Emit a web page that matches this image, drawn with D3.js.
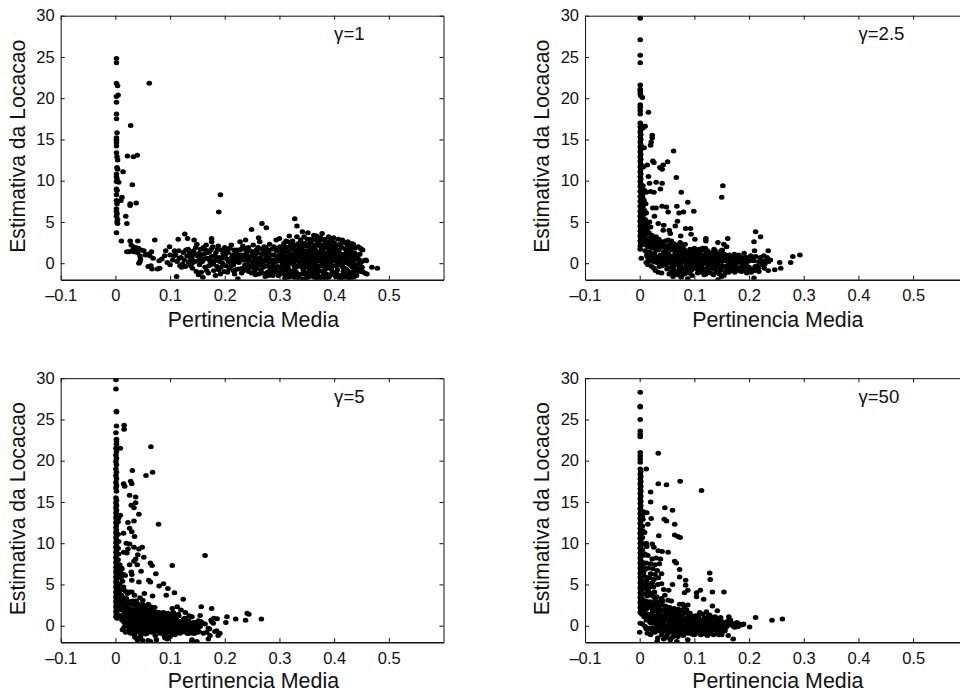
<!DOCTYPE html>
<html>
<head>
<meta charset="utf-8">
<script src="https://cdnjs.cloudflare.com/ajax/libs/d3/7.8.5/d3.min.js"></script>
<style>
html, body { margin: 0; padding: 0; background: #fff; overflow: hidden; }
text { font-family: "Liberation Sans", Arial, sans-serif; fill: #111; }
</style>
</head>
<body>
<div id="chart"></div>
<script>
const xTicks = [-0.1, 0, 0.1, 0.2, 0.3, 0.4, 0.5];
const xTickLabels = ["\u20130.1", "0", "0.1", "0.2", "0.3", "0.4", "0.5"];
const yTicks = [0, 5, 10, 15, 20, 25, 30];
const xLabel = "Pertinencia Media";
const yLabel = "Estimativa da Locacao";
const gammaLabels = ["1", "2.5", "5", "50"];

// values, one array per panel
const gamma1Points = [
  [.002,24.8],[.002,24.3],[.002,21.8],[.004,21.5],[.005,20.4],[.002,20.2],[.002,19.5],[.002,18.1],[.002,17.5],[.003,15.8],[.002,15.2],[.002,14.9],[.002,14.6],[.002,14.2],[.002,13.4],[.003,12.9],[.004,12.5],[.003,11.6],[.004,11.4],[.002,10.8],[.002,10.5],[.003,10.2],[.002,9.9],[.006,9.8],[.002,9],[.003,8.8],[.002,8.3],[.002,7.6],[.003,7.2],[.002,6.6],[.002,6.3],[.003,6],[.002,5.7],[.004,5.3],[.003,5],[.004,4.8],[.002,3.7],
  [.062,21.8],[.028,16.7],[.022,13],[.033,12.9],[.04,13.1],[.014,11.1],[.031,9.5],[.012,8],[.01,7.6],[.027,7.2],[.027,7],[.038,7.3],[.019,5.7],[.021,4.8],[.192,8.3],[.189,6.2],[.268,4.8],[.276,4.3],[.249,4.1],[.328,5.4],[.332,4.5],
  [.011,2.7],[.027,2.7],[.041,2.7],[.072,2.8],[.021,1.4],[.025,1.4],[.03,1.5],[.034,1.4],[.029,2.2],[.033,2],[.037,1.9],[.042,1.8],[.047,1.6],[.052,1.5],[.04,1.3],[.045,.9],[.046,.5],[.045,.2],[.043,0],[.055,1],[.06,1.1],[.066,1.4],[.063,.9],[.069,.6],[.06,-.4],[.065,-.3],[.067,-.7],[.077,-.7],[.081,-.6],[.08,.3],[.085,.5],[.09,.9],[.092,1.5],[.099,2],[.1,1],[.095,.1],[.1,-.2],[.105,.4],
  [.115,2.9],[.127,3.55],[.132,3],[.144,2.8],[.176,3],[.176,2.6],[.149,2.3],[.11,1],[.113,.2],[.116,1.5],[.118,-.3],[.12,.7],[.112,-1.6],[.124,1.3],[.126,.4],[.128,-.4],[.131,.9],[.134,.1],[.136,1.2],[.138,-.3],[.14,.6],[.143,1.5],[.145,.2],[.147,1.9],[.15,.9],[.152,-1.4],[.154,-.2],[.156,1.7],[.158,.4],[.16,-1.7],[.162,1.1],[.164,-.5],[.166,2.2],[.168,.6],[.17,-1.2],[.172,1.4],[.174,-.2],[.176,.8],[.178,2],[.18,-.9],[.182,.3],[.184,1.3],[.186,-.4],[.188,2.1],[.19,.7],[.192,-1.3],[.194,1.6],[.196,0],[.198,.9],
  [.2,1.9],[.202,-.3],[.204,.5],[.206,1.3],[.208,-.7],[.21,.2],[.212,2.2],[.214,1],[.216,-.2],[.218,-1.3],[.22,.6],[.222,1.6],[.224,-1.9],[.226,.1],[.228,2.6],[.23,1],[.232,-.6],[.234,.4],[.236,1.8],[.238,2.8],[.24,-.2],[.242,.8],[.244,-1],[.246,1.5],[.248,.2],[.25,-.5],[.252,2.2],[.254,.9],[.256,-1.4],[.258,1.6],[.26,.1],[.262,3.1],[.264,2.6],[.266,-.8],[.268,1.1],[.27,.4],[.272,2],[.274,-1.6],[.276,1.4],[.278,-.3],[.28,.7],[.282,2.3],[.284,-1.1],[.286,1.7],[.288,.1],[.29,1],[.292,-.7],[.294,2.8],[.296,.5],[.298,-1.5],[.255,.5],[.265,-.2],[.275,.9],[.285,-.5],[.295,1.5],[.258,-.6],[.272,.2],[.28,-1.5],[.29,2],[.268,1.7],
  [.3,3],[.302,.3],[.304,1.5],[.306,-1],[.308,2.4],[.31,.8],[.312,-.3],[.314,1.9],[.316,-1.7],[.318,3.3],[.32,1.1],[.322,.1],[.324,2.7],[.326,-.9],[.328,1.4],[.33,.5],[.332,3.2],[.334,-.4],[.336,2],[.338,-1.9],[.34,1],[.342,3.8],[.344,.2],[.346,2.4],[.348,-1.3],[.35,1.5],[.303,-.6],[.307,1.2],[.311,-1.4],[.315,.4],[.319,-.1],[.323,1.7],[.327,-.2],[.331,-1.2],[.335,.9],[.339,2.8],[.343,-.7],[.347,.6],[.351,2.9],[.305,.7],[.309,2],[.313,-.8],[.317,.9],[.321,2.3],[.325,.2],[.329,-1.6],[.333,1.1],[.337,-.1],[.341,1.8],[.345,-1],[.349,.3],[.306,-.2],[.316,1.4],[.326,.7],[.336,.2],[.346,1.2],[.31,.1],[.32,-1],[.33,2.2],[.34,-.3],[.35,-.5],
  [.352,3.7],[.354,.6],[.356,1.9],[.358,-1.5],[.36,2.9],[.362,.1],[.364,1.2],[.366,-.6],[.368,3.3],[.37,.8],[.372,-1.9],[.374,2.1],[.376,.3],[.378,3.6],[.38,1.4],[.382,-.9],[.384,2.6],[.386,.6],[.388,-.1],[.39,3.2],[.392,1],[.394,-1.4],[.396,2.2],[.398,.4],[.353,-1.2],[.355,1.1],[.357,2.6],[.359,.2],[.361,-.4],[.363,3.4],[.365,1.7],[.367,.4],[.369,-1.1],[.371,2.5],[.373,.9],[.375,-.3],[.377,1.7],[.379,-1.6],[.381,.5],[.383,2.9],[.385,1.2],[.387,-.6],[.389,1.8],[.391,.2],[.393,2.7],[.395,-.7],[.397,1.2],[.399,3.1],[.354,2.3],[.358,.8],[.362,-1],[.366,1.5],[.37,2.2],[.374,-.9],[.378,.1],[.382,1.9],[.386,-1.3],[.39,.7],[.394,1.6],[.398,-.3],[.356,-.2],[.36,1.4],[.364,-1.7],[.368,.5],[.372,1.2],[.376,2.8],[.38,-.2],[.384,.9],[.388,2.3],[.392,-.5],[.396,.8],[.351,.5],[.363,.5],[.371,-.4],[.383,-.5],[.391,1.5],
  [.4,2.5],[.402,.3],[.404,1.6],[.406,-.8],[.408,2.9],[.41,.7],[.412,-1.5],[.414,1.9],[.416,.1],[.418,2.5],[.42,1.1],[.422,-.7],[.424,2.1],[.426,.5],[.428,-1.3],[.43,1.4],[.432,2.4],[.434,.2],[.436,-1.7],[.438,1.8],[.44,.8],[.442,-.6],[.444,2],[.446,.4],[.448,-1],[.45,1.7],[.452,1.6],[.454,.3],[.456,-1.2],[.458,.4],[.46,-1.3],[.403,-.3],[.407,1.1],[.411,2.3],[.415,-.4],[.419,.4],[.423,1.4],[.427,-.1],[.431,.3],[.435,1.1],[.439,-.2],[.443,.6],[.447,-.7],[.401,1.3],[.405,-1.3],[.409,-.2],[.413,.9],[.417,-1],[.421,.1],[.425,-1.8],[.429,.8],[.433,-.5],[.437,.4],[.441,-1.5],[.445,-.1],[.451,-.5],[.449,.1],[.459,.3],[.469,-.5],[.479,-.6],[.443,.9],[.448,1.8],
  // second pass over the dense part of the cloud
  [.107,.9],[.121,-.5],[.129,1.6],[.137,.5],[.141,-.6],[.148,-1],[.153,1.2],[.159,.2],[.161,1.9],[.167,-.9],[.169,1.3],[.173,.3],[.179,-.1],[.181,.9],[.183,-1.5],[.187,1.7],[.191,.2],[.193,-.5],[.197,1.2],[.199,-1],[.201,1],[.205,-1.1],[.207,.2],[.209,1.8],[.211,-.3],[.213,.7],[.217,1.6],[.219,-.8],[.221,.2],[.223,1.1],[.225,-.7],[.227,1.6],[.229,.4],[.231,-1.2],[.233,2.1],[.235,.9],[.237,-.2],[.239,1.2],[.241,.4],[.243,1.9],[.245,-.4],[.247,.8],[.249,-1.2],[.251,1.4],[.253,.1],[.257,1.1],[.259,-.2],[.261,1.9],[.263,.6],[.267,.1],[.269,-1.2],[.271,1.2],[.273,-.4],[.277,.5],[.279,1.6],[.281,.1],[.283,-.7],[.287,1],[.289,-.3],[.291,.4],[.293,1.8],[.297,-.4],[.299,.9],
  [.301,2],[.304,.2],[.307,-.4],[.31,1.5],[.313,.5],[.316,-.6],[.319,.8],[.322,2.2],[.325,1],[.328,-.5],[.331,.3],[.334,1.6],[.337,.8],[.34,.3],[.343,2.3],[.346,-.3],[.349,1],[.352,.2],[.355,-.7],[.358,1.5],[.361,.7],[.364,2.2],[.367,-.2],[.37,-1],[.373,1.4],[.376,.7],[.379,2.2],[.382,.3],[.385,-.3],[.388,.9],[.391,2.2],[.394,.2],[.397,-1.1],[.4,.8],[.403,2],[.406,.1],[.409,1.5],[.412,.4],[.415,1.1],[.418,-.6],[.421,1.7],[.424,.7],[.427,1.1],[.43,-.2],[.433,1.8],[.436,.9],
  [.303,1],[.308,.3],[.312,2.7],[.317,-1.2],[.321,.5],[.326,1.9],[.33,-1],[.335,2.4],[.339,.5],[.344,1.4],[.348,2.1],[.353,.9],[.357,-.1],[.362,1.8],[.366,2.8],[.371,.3],[.375,1.3],[.38,.6],[.384,-1.4],[.389,.4],[.393,-.2],[.398,1.8],[.402,1.2],[.407,-1.6],[.411,.2],[.416,-1.4],[.42,.6],[.425,.9],[.429,1.9],[.434,-1.1],[.438,-.7],[.305,1.9],[.315,2.6],[.325,-1.4],[.335,-1.6],[.345,3.2],[.355,2.9],[.365,-1.2],[.375,3.1],[.385,-1.8],[.395,3],[.405,2.2],[.415,2.8],[.425,2.6],[.435,2.3],[.36,-1],[.37,-1.5],[.38,-1.2],[.39,-1.7],[.4,-1.2],[.41,-1.9],[.42,-1.5],[.43,-1.8],[.35,-1.8],[.34,-1.3],
  // third pass, left part of the cloud and its lower edge
  [.108,1.5],[.117,.6],[.123,-.1],[.133,1.7],[.139,1],[.142,.1],[.146,1.1],[.151,.3],[.155,.8],[.157,-1.1],[.163,.5],[.165,1.6],[.171,-.3],[.175,1.7],[.177,.2],[.185,.7],[.189,-.8],[.195,.6],[.203,1.6],[.215,.3],[.22,1.2],[.225,.6],[.23,1.7],[.235,-.9],[.24,1.4],[.245,.3],[.25,1],[.255,-.9],[.26,1.3],[.265,.6],[.27,-.5],[.275,1.9],[.28,1.3],[.285,.4],[.29,-1.1],[.295,.2],[.3,1],[.298,.6],[.262,-1.3],[.278,-1.1],[.288,-1.5],[.296,-1],[.252,-.2],[.242,-.6],[.232,.9],[.216,-.9],[.31,-1.8],[.322,-1.6],[.33,-1.9],[.345,-1.9],[.355,-1.6],[.368,-1.8],[.378,-1.8],[.392,-1.5],[.403,-1.6],[.415,-1.8],[.426,-1],[.433,-1.4],[.44,-1.1],[.452,-1],[.302,-1.3],[.318,.2],[.328,.9],[.338,1.3],[.348,-.2],[.358,.3],[.368,1.1],[.378,1.2],[.388,.3],[.398,.9],[.408,.5],[.418,.8],[.428,.2],[.438,1.2],[.447,1.1]
];

const gamma2Points = [
  [.001,29.7],[.001,27.1],[.001,25.2],[.001,24.3],[.001,21.6],[.001,21.1],[.001,20.8],[.001,20.5],[.005,20.1],[.002,20.3],[.001,19.2],[.001,18.9],[.001,18.5],[.001,18.1],[.001,17],[.002,16.8],[.001,16.5],[.002,16.2],[.001,15.9],[.002,15.6],[.001,15.3],[.002,15],[.001,14.7],[.002,14.4],[.001,14.1],[.002,13.8],[.001,13.5],[.002,13.2],[.001,12.9],[.002,12.6],[.001,12.3],[.002,12],[.001,11.7],[.002,11.4],[.001,11.1],[.002,10.8],[.001,10.5],[.002,10.2],[.001,9.9],[.002,9.6],[.001,9.3],[.003,9],[.001,8.7],[.003,8.4],[.001,8.1],[.003,7.8],[.001,7.5],[.003,7.2],[.001,6.9],[.003,6.6],[.001,6.3],[.002,6],[.001,5.7],[.002,5.4],[.001,5.1],[.002,4.8],[.001,4.5],[.002,4.2],[.001,3.9],[.002,3.6],[.001,3.3],[.002,3],[.001,2.7],[.002,2.4],[.001,2.1],[.001,1.7],[.003,.6],
  [.016,18.3],[.01,16.6],[.006,16.4],[.023,15.5],[.023,15.2],[.021,14.7],[.02,14.3],[.008,14],[.024,12.4],[.026,12.2],[.062,13.6],[.051,12.3],[.043,11.9],[.037,11.6],[.041,11.4],[.014,11.9],[.007,11.7],[.016,10.5],[.067,10.4],[.018,9.7],[.03,9.8],[.041,9.7],[.152,9.4],[.15,8],[.076,8.6],[.038,9],[.02,8.7],[.026,8.6],[.088,7.4],[.068,6.9],[.041,6.9],[.049,6.8],[.072,6.1],[.08,6.2],[.099,6.3],[.052,6.2],[.024,6.7],[.03,6.7],[.027,5.7],[.069,5.1],[.065,4.5],[.084,4.2],[.093,4.2],[.034,4.8],[.044,4.6],[.043,4],[.054,4],[.056,3.6],[.094,3.5],[.075,3.3],[.121,3],[.121,2.7],[.101,2.9],[.143,2.5],[.161,3],[.154,2.3],[.159,2],[.212,3.8],[.221,3.2],[.209,2.6],[.21,1.5],[.235,1.5],[.293,1],[.28,.8],[.276,.1],[.256,.1],[.258,-.6],[.247,-.8],[.235,-.9],[.239,.4],[.209,-1.8],[.143,-2],
  [.006,9.4],[.009,8.8],[.012,8.6],[.005,8.2],[.008,7.6],[.011,7.2],[.006,6.8],[.009,6.4],[.012,6.1],[.007,5.9],[.01,5.3],[.014,4.8],[.018,5],[.02,4.4],[.008,4.3],[.013,3.9],[.017,3.7],[.022,3.4],[.008,3.2],[.012,2.9],[.026,3.1],[.03,3.2],[.016,2.8],[.02,2.6],[.035,2.9],[.04,2.6],[.006,2.5],[.011,2.2],[.015,2],[.019,2.1],[.024,2.3],[.028,2.2],[.033,2.4],[.047,2.7],[.052,2.8],[.058,2.7],[.062,2.4],[.068,2.2],[.074,2.5],[.078,2],[.083,2.3],[.037,1.9],[.042,2],[.05,1.9],[.056,1.8],
  [.01,1.5],[.013,1],[.016,.5],[.012,.1],[.015,-.2],[.018,1.4],[.021,.8],[.024,.2],[.027,1.2],[.022,-.4],[.026,-.6],[.03,.5],[.033,1.6],[.029,-.9],[.035,.1],[.038,1],[.034,-1.1],[.041,-.3],[.044,1.4],[.04,-1.2],[.047,.5],[.05,-.7],[.053,1.1],[.056,.1],[.059,1.6],[.054,-1.3],[.062,-.4],[.065,.8],[.061,-1.6],[.068,1.4],[.071,.2],[.067,-1.1],[.074,-.5],[.077,1],[.08,.4],[.076,-1.7],[.083,1.5],[.086,-.2],[.082,-1.3],[.089,.7],[.092,1.7],[.088,-1.9],[.095,.1],[.098,1.2],[.094,-.9],[.101,-.3],[.104,.8],[.1,1.8],[.107,.2],[.11,1.4],[.106,-1.2],[.113,-.5],[.116,.9],[.119,.1],[.115,1.8],[.122,1.3],[.125,-.4],[.121,-1.3],[.128,.6],[.131,1.2],[.127,-1.1],[.134,.1],[.137,-.7],[.14,.9],[.136,1.7],[.143,.3],[.146,-1.3],[.149,1.5],[.145,-.3],[.152,.6],[.155,-.5],[.158,.9],[.154,-1.5],[.161,.2],[.164,1],[.167,-.2],[.163,-1.1],[.17,.5],[.173,1.1],[.176,-.4],[.172,.1],[.179,.8],[.182,-.9],[.185,.4],[.181,1],[.188,-.3],[.191,1.2],[.194,-1],[.197,.2],[.193,.7],[.2,-.5],[.203,.9],[.206,-.8],[.209,.3],[.212,.8],[.215,-.3],[.218,.2],[.221,.7],[.224,-.2],[.227,.9],[.23,.3],[.233,.7],[.236,.2],[.228,-.6],[.218,-1],[.204,-1.1],[.196,-1.2],
  [.04,.6],[.045,-.1],[.05,1.3],[.055,.8],[.06,.3],[.065,1.2],[.07,-.2],[.075,.7],[.08,-.6],[.085,.9],[.09,.2],[.095,-.4],[.1,.6],[.105,1.5],[.11,-.1],[.115,.3],[.12,-.7],[.125,1],[.13,.4],[.135,-.2],[.14,-.5],[.145,.7],[.15,.2],[.155,1.1],[.16,-.3],[.165,.5],[.17,-.7],[.175,.6],[.18,.1],[.185,-.5],[.19,.5],[.195,-.2],[.07,1.1],[.075,-.2],[.08,1.2],[.085,.1],[.09,-.5],[.095,.8],[.1,.1],[.105,-.7],[.11,.7],[.115,-.1],[.12,.5],[.125,.1],[.13,-.6],[.135,.7],[.14,.3],[.06,-.1],[.065,.3],[.07,.6],[.075,.2],[.08,.8],[.085,-.3],[.09,.5],[.095,.3],[.1,-.6],[.105,.2],[.11,.3],[.115,.6],[.12,.1],[.125,-.2],
  // second pass over the dense part
  [.004,9.1],[.006,7.8],[.005,7.1],[.008,6.1],[.005,5.6],[.006,5],[.005,4.4],[.006,3.8],[.005,3.3],[.004,2.8],[.01,4.7],[.012,3.5],[.015,4.3],[.017,3],[.021,3],[.025,2.7],[.029,2.7],[.031,2.2],[.009,2.7],[.013,2.4],[.017,2.3],[.022,1.9],[.026,1.8],[.03,1.7],[.035,1.7],[.039,2.3],[.045,2.2],[.048,1.6],[.054,2.2],[.06,2],[.066,1.7],[.07,1.9],[.076,1.6],[.081,1.7],[.086,1.2],[.09,1.3],[.094,1.6],[.098,1.6],[.102,1.4],[.108,1.7],[.112,1.1],[.117,1.6],[.12,1.8],[.124,1.5],[.129,1],[.133,1.3],[.138,1.5],[.141,1.2],[.147,1.1],[.151,1.6],
  [.014,.8],[.017,1.1],[.02,.3],[.023,1],[.026,.5],[.028,.9],[.031,.1],[.034,.7],[.036,-.4],[.039,.3],[.042,.9],[.044,.1],[.046,1],[.049,-.2],[.051,.5],[.054,.2],[.057,.6],[.058,-.5],[.061,.8],[.063,-.9],[.066,.1],[.069,.9],[.072,-.7],[.073,.5],[.076,.4],[.078,-.9],[.079,1.3],[.082,.2],[.084,.6],[.087,-.6],[.088,1],[.091,-.2],[.093,.9],[.096,-.7],[.097,.6],[.099,1.1],[.102,.4],[.103,-.4],[.106,1],[.108,-.5],[.109,.5],[.112,-.9],[.114,.7],[.117,.2],[.118,-.9],[.12,.9],[.123,.4],[.124,-.8],[.126,.6],[.129,-.3],[.132,.1],[.133,.8],[.136,.4],[.138,-.3],[.139,.6],[.142,.1],[.144,1],[.147,-.7],[.148,.4],[.151,-.3],[.153,.9],[.156,.3],[.157,-1],[.159,.5],[.162,.7],[.163,-.6],[.166,.2],[.168,-.9],[.169,.8],[.171,-.3],[.174,.4],[.177,.9],[.178,-.7],[.18,.5],[.183,.2],[.184,-.9],[.186,.7],[.189,.1],[.192,-.6],[.194,.4],[.198,.7],[.201,.3],[.207,.6],[.211,-.4],[.217,-.6],[.223,.3],[.229,-.1],
  [.058,-1],[.064,-1.3],[.07,-1.4],[.074,-1.1],[.078,-1.4],[.084,-1],[.09,-1.2],[.096,-1.5],[.11,-1.1],[.118,-1.4],[.124,-1],[.13,-1.2],[.135,-1.4],[.14,-1.1],[.148,-.9],[.15,-1.6],[.158,-1.1],[.165,-.8],[.174,-1.1],[.186,-1],[.19,-.9],[.2,-1],[.21,-.9]
];

const gamma5Points = [
  [.001,29.8],[.001,28.7],[.002,26],[.002,25.9],[.002,24.2],[.001,23.4],[.002,22.6],[.002,22.3],[.002,22],[.001,21.5],[.002,21.1],[.001,20.7],[.002,20.3],[.001,19.9],[.002,19.5],[.001,19],[.002,18.6],[.001,18.2],[.002,17.8],[.001,17.4],[.002,17],[.001,16.7],[.002,16.3],[.001,15.5],[.002,15.2],[.001,14.9],[.002,14.6],[.001,14.3],[.002,14],[.001,13.7],[.002,13.4],[.001,13.1],[.002,12.8],[.001,12.5],[.002,12.2],[.001,11.9],[.002,11.6],[.001,11.3],[.002,11],[.001,10.7],[.002,10.4],[.001,10.1],[.002,9.8],[.001,9.5],[.002,9.2],[.001,8.9],[.002,8.6],[.001,8.3],[.002,8],[.001,7.7],[.002,7.4],[.001,7.1],[.002,6.8],[.001,6.5],[.002,6.2],[.001,5.9],[.002,5.6],[.001,5.3],[.002,5],[.001,4.7],[.002,4.4],[.001,4.1],[.002,3.8],[.001,3.5],[.002,3.2],[.001,2.9],[.002,2.6],[.001,2.3],[.002,2],[.001,1.7],[.002,1.4],[.001,1.1],[.003,.9],
  [.016,24.3],[.016,23.8],[.065,21.7],[.009,21.5],[.068,18.6],[.056,18.2],[.031,18.8],[.015,17.2],[.017,16.9],[.028,17.5],[.03,17.2],[.026,15.8],[.037,15.6],[.037,14.9],[.029,14.6],[.034,14.3],[.043,13.5],[.009,13.4],[.006,13.1],[.034,12.7],[.023,12.5],[.079,12.3],[.026,11.8],[.03,11.4],[.015,11.2],[.035,10.8],[.02,10],[.026,9.9],[.049,9.5],[.034,9.5],[.043,9.3],[.023,9.3],[.164,8.5],[.015,8.9],[.021,8.8],[.041,8.6],[.052,8.3],[.037,8.1],[.034,7.8],[.064,7.6],[.067,7.3],[.104,7.3],[.04,7.4],[.026,7.4],[.012,6.9],[.029,6.5],[.047,6.6],[.074,6.3],[.03,6.2],[.015,6.2],[.03,5.5],[.061,5.5],[.064,5.3],[.043,5.3],[.088,5.1],[.08,4.8],[.096,4.5],[.108,4],[.015,4.7],[.03,4.1],[.124,3.2],[.093,3.7],[.068,3.6],[.053,3.9],[.157,2.3],[.176,2.1],[.113,2.3],[.104,2.1],[.241,1.5],[.244,1.4],[.204,1.1],[.267,.8],[.22,.8],[.238,.65],[.202,.4],[.155,1.25],[.186,.85],
  [.008,7.4],[.011,7],[.007,6.4],[.01,5.8],[.013,5.4],[.008,5],[.012,4.4],[.007,4.1],[.018,4.2],[.022,3.9],[.026,4.1],[.011,3.7],[.015,3.4],[.02,3.3],[.035,3.7],[.045,3.4],[.05,3.1],[.007,3.1],[.01,2.8],[.014,2.5],[.019,2.7],[.023,2.4],[.028,2.9],[.032,3],[.038,3],[.042,2.6],[.048,2.4],[.06,2.6],[.065,2.3],[.072,2.2],[.008,2.1],[.012,1.9],[.016,1.7],[.021,1.9],[.025,1.6],[.03,2],[.034,1.7],[.039,2.1],[.044,1.8],[.052,1.9],[.058,1.7],[.064,1.5],[.07,1.7],[.076,1.4],[.082,1.3],[.088,1.6],[.094,1.2],[.1,1],[.12,1.9],[.128,1.6],[.135,1.2],[.14,1.1],[.108,1.3],[.115,1.4],
  [.01,1.2],[.014,.8],[.018,1.1],[.022,.4],[.016,-.2],[.013,-.5],[.019,-.8],[.024,-.6],[.026,1.2],[.03,.7],[.028,.1],[.032,-.4],[.035,1.3],[.038,.5],[.041,-.2],[.036,-1.4],[.04,-1.7],[.044,1.1],[.047,.3],[.05,-.5],[.046,-1.3],[.053,1.3],[.056,.6],[.059,-.1],[.055,-1],[.05,-1.8],[.062,1.1],[.065,.3],[.068,-.6],[.064,-1.9],[.071,1.4],[.074,.7],[.077,-.1],[.073,-1.2],[.08,1],[.083,.3],[.086,-.6],[.082,-.9],[.089,1.2],[.092,.5],[.095,-.2],[.091,-1.5],[.098,1.1],[.101,.3],[.104,-.7],[.1,-1.3],[.107,.9],[.11,.2],[.113,-.5],[.109,-1.1],[.116,1.2],[.119,.4],[.122,-.3],[.118,-.9],[.125,.8],[.128,-.1],[.131,-.9],[.134,.6],[.137,-.2],[.14,-1.7],[.143,.4],[.146,-.4],[.149,-1.9],[.152,.6],[.155,-.1],[.158,.4],[.161,-.9],[.164,.2],[.167,-.8],[.17,-.3],[.173,-1.2],[.176,.5],[.179,.3],[.182,-.7],[.185,-.6],[.188,-1.2],[.191,-.9],[.175,.7],[.18,.9],[.172,-.4],
  [.02,.3],[.025,-.1],[.03,-.3],[.035,.2],[.04,1],[.045,.6],[.05,.1],[.055,.9],[.06,.3],[.065,-.4],[.07,.4],[.075,1],[.08,-.1],[.085,.7],[.09,-.5],[.095,.5],[.1,.7],[.105,.1],[.11,-.8],[.115,.5],[.12,-.1],[.125,.2],[.13,.5],[.135,-.5],[.14,.3],[.145,.1],[.15,.2],[.033,.9],[.043,-.8],[.053,-.3],[.063,.7],[.073,-.5],[.083,.9],[.093,-.9],[.103,.6],[.113,.6],[.123,-.7],[.133,-.9],[.143,-.9],[.153,-.7],[.037,-.6],[.047,.9],[.057,-.6],[.067,.8],[.077,.2],[.087,.1],[.097,.8],[.107,-.3],[.117,.1],[.127,.9],
  // second pass over the dense part
  [.005,12.6],[.005,11.1],[.006,10.2],[.005,9.4],[.006,8.7],[.005,8],[.006,7.2],[.005,6.6],[.005,5.9],[.006,5.1],[.005,4.5],[.006,3.9],[.005,3.2],[.006,2.6],[.005,1.9],[.006,1.3],[.009,6.6],[.012,6.2],[.018,6.1],[.01,3.3],[.013,3],[.017,2.8],[.02,2.3],[.025,2.9],[.03,2.6],[.035,2.5],[.04,2.4],[.045,2.1],[.05,2.6],[.055,2.3],[.015,2.2],[.019,1.5],[.023,1.3],[.027,1.9],[.031,1.3],[.036,1.8],[.041,1.5],[.046,1.4],[.05,1.5],[.055,1.3],[.06,1.9],[.066,1.9],[.07,1.2],[.075,1.6],[.08,1.6],[.085,1.2],[.09,1.4],[.096,1.5],[.102,1.4],[.106,1.6],[.112,1],
  [.012,.7],[.016,.4],[.02,.9],[.024,.9],[.027,.5],[.03,.2],[.033,.5],[.036,.7],[.039,.1],[.042,.7],[.045,.2],[.048,1],[.051,.6],[.054,.1],[.057,.7],[.06,.8],[.063,.2],[.066,.7],[.069,.1],[.072,.9],[.075,.4],[.078,.5],[.081,.3],[.084,-.3],[.087,.6],[.09,.3],[.093,.8],[.096,.1],[.099,.5],[.102,-.2],[.105,.5],[.108,.7],[.111,.1],[.114,-.2],[.117,.5],[.12,.3],[.123,.6],[.126,.1],[.129,.2],[.132,-.3],[.135,.2],[.138,.1],[.141,-.3],[.144,-.1],[.147,.4],[.15,-.3],[.153,.3],[.156,.5],
  [.025,-.6],[.028,-.9],[.033,-.8],[.037,-.3],[.041,-.7],[.045,-.3],[.048,-.9],[.052,-.2],[.055,-.4],[.058,-.9],[.061,-.5],[.064,-.1],[.067,-.8],[.07,-.3],[.073,-.1],[.076,-.6],[.079,-.5],[.082,-.2],[.085,-.9],[.088,-.2],[.091,-.8],[.094,-.6],[.097,-.4],[.1,-.7],[.103,-.2],[.106,-.9],[.109,-.4],[.112,-.8],[.115,-.5],[.118,-.3],[.121,-.8],[.124,-.3],[.127,-.6],[.13,-.2],[.133,-.6],[.136,-.9],[.139,-.6],[.142,-.4],[.145,-.9],[.148,-.6],[.151,-.8],[.035,-1.2],[.045,-1.6],[.06,-1.8],[.075,-1.7],[.09,-1.3],[.095,-1.6],[.14,-1.9],[.17,-1.6]
];

const gamma50Points = [
  [.001,28.3],[.001,26.6],[.001,26.5],[.001,25],[.001,23.6],[.001,23.2],[.001,22.9],[.001,21],[.001,20.6],[.001,20.2],[.001,19.8],[.001,19],[.002,18.7],[.001,18.4],[.002,18.1],[.001,17.8],[.002,17.5],[.001,17.2],[.002,16.9],[.001,16.6],[.002,16.3],[.001,16],[.002,15.7],[.001,15.4],[.002,15.1],[.001,14.8],[.002,14.5],[.001,14.2],[.002,13.9],[.001,13.6],[.002,13.3],[.001,13],[.002,12.7],[.001,12.4],[.002,12.1],[.001,11.8],[.002,11.5],[.001,11.2],[.002,10.9],[.001,10.6],[.002,10.3],[.001,10],[.002,9.7],[.001,9.4],[.002,9.1],[.001,8.8],[.002,8.5],[.001,8.2],[.002,7.9],[.001,7.6],[.002,7.3],[.001,7],[.002,6.7],[.001,6.4],[.002,6.1],[.001,5.8],[.002,5.5],[.001,5.2],[.002,4.9],[.001,4.6],[.002,4.3],[.001,4],[.002,3.7],[.001,3.4],[.002,3.1],[.001,2.8],[.002,2.5],[.001,2.2],[.002,1.9],[.001,1.6],
  [.034,20.9],[.012,19],[.074,17.5],[.034,17.2],[.049,17.1],[.113,16.4],[.02,16.2],[.02,15],[.046,14.3],[.06,14],[.013,13.7],[.007,13.8],[.021,13],[.045,12.9],[.049,12.7],[.064,12.3],[.015,12.3],[.006,12.9],[.009,11.3],[.035,10.9],[.064,11],[.07,10.8],[.074,10.7],[.012,10],[.013,9.6],[.023,9.9],[.026,9.5],[.034,9.1],[.041,9],[.052,8.9],[.064,7.8],[.067,7.6],[.073,6.8],[.128,6.4],[.129,5.6],[.073,5.9],[.084,5.5],[.06,5],[.084,4.9],[.111,4.3],[.133,4.1],[.154,4.1],[.088,4.3],[.082,4],[.104,4],[.104,3.5],[.117,3.2],[.133,2.4],[.044,4.4],[.053,4.3],[.046,3.7],[.04,3.3],[.052,3.1],[.058,3],[.073,2.6],[.079,2.6],[.212,1],[.242,.65],[.261,.8],[.201,-.15],[.189,.15],[.171,-1.6],[.163,1.1],[.142,1.8],[0,-.8],[.001,.3],
  [.01,8.7],[.015,8.5],[.023,8.1],[.03,8.2],[.038,8.1],[.012,7.6],[.02,7.5],[.028,7.4],[.036,7.5],[.006,7.2],[.016,7],[.024,6.9],[.032,6.7],[.007,6.4],[.02,6.3],[.028,6.2],[.04,6.3],[.011,5.9],[.018,5.8],[.026,5.6],[.034,5.8],[.008,5.2],[.016,5],[.023,5.2],[.033,5],[.04,5.1],[.01,4.5],[.016,4.2],[.025,4.7],[.007,3.8],[.014,3.6],[.024,3.6],[.028,3.3],[.034,2.9],[.042,3],[.01,3],[.016,2.7],[.022,2.6],[.03,2.5],[.036,2.4],[.047,2.4],[.055,2.2],[.063,2.1],[.07,2],[.082,2.3],[.088,2.5],[.006,2.3],[.012,2],[.018,2.2],[.024,1.9],[.032,1.9],[.04,1.8],[.048,1.7],[.056,1.8],[.064,1.5],[.072,1.6],[.08,1.7],[.086,1.9],[.092,1.5],[.096,1.1],[.11,1.6],[.122,1.7],[.128,1.3],[.138,1.1],[.148,1],
  [.004,1.4],[.008,1.1],[.012,.7],[.005,.2],[.01,-.1],[.014,1.4],[.018,.9],[.022,.3],[.016,-.4],[.014,-.9],[.02,-1.1],[.026,1.2],[.03,.6],[.034,-.1],[.028,-.8],[.033,-1.5],[.032,-1.9],[.038,1.2],[.042,.5],[.046,-.3],[.04,-1.1],[.048,-1.4],[.05,1.3],[.054,.6],[.058,-.1],[.052,-.8],[.056,-1.7],[.062,1.2],[.066,.3],[.07,-.4],[.064,-1.2],[.068,-1.9],[.074,1],[.078,.3],[.082,-.5],[.076,-1],[.088,-1.7],[.086,.9],[.09,.2],[.094,-.5],[.088,-.9],[.098,1],[.102,.3],[.106,-.6],[.1,-1.1],[.11,.7],[.114,.1],[.118,-.5],[.112,-1.1],[.122,.8],[.126,.2],[.13,-.6],[.124,-1.2],[.134,.5],[.138,-.2],[.142,-.9],[.146,.6],[.15,-.2],[.145,-1.1],[.154,.4],[.158,-.2],[.162,-1.2],[.166,.7],[.17,.2],[.174,-.2],[.178,.4],[.182,.2],[.186,.1],[.19,.2],[.18,-.1],
  [.02,1.3],[.025,.6],[.03,-.2],[.035,.8],[.04,.2],[.045,1],[.05,-.3],[.055,1],[.06,.4],[.065,.9],[.07,.5],[.075,-.2],[.08,.8],[.085,.2],[.09,.7],[.095,-.1],[.1,.6],[.105,.1],[.11,-.3],[.115,.5],[.12,.3],[.125,.7],[.13,.1],[.135,-.4],[.14,.4],[.145,.1],[.15,.5],[.155,-.1],[.16,.5],[.165,.1],[.023,-.3],[.033,.4],[.043,-.7],[.053,.2],[.063,-.4],[.073,.4],[.083,.1],[.093,.4],[.103,-.2],[.113,-.7],[.123,-.3],[.133,.2],[.143,-.2],[.037,1.6],[.047,.7],[.057,1.4],[.067,-.9],[.077,1.2],[.087,-.2],[.097,.3],[.107,.9],
  // second pass over the dense part
  [.005,13.3],[.005,12.1],[.006,11.5],[.005,10.7],[.006,9.9],[.005,9.2],[.006,8.5],[.005,7.7],[.006,6.9],[.005,6.1],[.006,5.4],[.005,4.7],[.006,3.9],[.005,3.2],[.006,2.5],[.005,1.8],[.01,6.8],[.013,5.4],[.009,4.9],[.012,3.9],[.018,4.7],[.021,3.9],[.027,4.1],[.031,3.5],[.008,2.7],[.011,2.4],[.014,2.9],[.019,2.9],[.023,2.3],[.026,2.8],[.03,1.8],[.033,2.2],[.037,2],[.041,2.5],[.045,1.9],[.05,2.2],[.053,1.8],[.058,2],[.061,1.6],[.066,2],[.07,1.4],[.075,1.9],[.078,1.4],[.083,1.5],[.09,1.2],[.094,1],[.102,1.2],[.108,1.3],[.115,1.4],[.125,1.2],[.133,1],[.14,.8],
  [.008,1.6],[.011,1.3],[.015,1],[.019,.4],[.022,1.5],[.025,1.1],[.028,.3],[.031,1.1],[.034,1.4],[.037,.7],[.04,1.1],[.043,.3],[.046,1.3],[.049,.8],[.052,.1],[.055,.5],[.058,1.1],[.061,.8],[.064,.1],[.067,1],[.07,.2],[.073,1.1],[.076,.6],[.079,.1],[.082,.8],[.085,.5],[.088,.1],[.091,.9],[.094,.3],[.097,.9],[.1,.2],[.103,.7],[.106,.4],[.109,.3],[.112,.6],[.115,.1],[.118,.9],[.121,.1],[.124,.5],[.127,.1],[.13,.7],[.133,-.2],[.136,.2],[.139,.3],[.142,.6],[.145,.5],[.148,.1],[.151,.3],[.154,.1],[.157,.3],[.16,.1],[.168,.3],[.172,-.1],[.176,.3],
  [.012,-.4],[.018,-.3],[.024,-.7],[.027,-.3],[.036,-.6],[.039,-.3],[.044,-.2],[.047,-.6],[.051,-.1],[.054,-.5],[.057,-.8],[.06,-.3],[.063,-.8],[.066,-.5],[.069,-.1],[.072,-.6],[.075,-.7],[.078,-.3],[.081,-.1],[.084,-.7],[.087,-.4],[.09,-.3],[.093,-.7],[.096,-.3],[.099,-.5],[.102,-.7],[.105,-.2],[.108,-.5],[.111,-.1],[.114,-.6],[.117,-.2],[.12,-.5],[.124,-.6],[.127,-.3],[.13,-.9],[.136,-.5],[.14,-.5],[.147,-.5],[.152,-.7],[.156,-.6],[.044,-1.6],[.05,-1.2],[.06,-1.4],[.07,-1.3],[.08,-1.2],[.095,-1],[.11,-1],[.12,-1],[.135,-1.1],[.15,-1.1]
];

const panelData = [gamma1Points, gamma2Points, gamma5Points, gamma50Points];

const CHART_W = 960;
const CHART_H = 693;
const PLOT_W = 382.8;
const PLOT_H = 264;
const COL_X = [60.7, 585];
const ROW_Y = [15.7, 378.2];
const XLABEL_OFFSET = [47.5, 46];

const svg = d3.select("#chart")
  .append("svg")
  .attr("width", CHART_W)
  .attr("height", CHART_H)
  .style("display", "block");

const xScale = d3.scaleLinear().domain([-0.1, 0.6]).range([0, PLOT_W]);
const yScale = d3.scaleLinear().domain([-2, 30]).range([PLOT_H, 0]);

panelData.forEach((points, i) => {
  const left = COL_X[i % 2];
  const row = Math.floor(i / 2);
  const top = ROW_Y[row];
  const g = svg.append("g").attr("transform", `translate(${left},${top})`);
  const clipId = `clip-${i}`;

  g.append("clipPath").attr("id", clipId)
    .append("rect")
    .attr("width", PLOT_W)
    .attr("height", PLOT_H);

  g.append("g")
    .attr("clip-path", `url(#${clipId})`)
    .selectAll("ellipse.dot")
    .data(points)
    .join("ellipse")
    .attr("class", "dot")
    .attr("cx", (d) => xScale(d[0]))
    .attr("cy", (d) => yScale(d[1]))
    .attr("rx", 2.8)
    .attr("ry", 2.5)
    .attr("fill", "#000");

  const styleAxis = (sel) => {
    sel.selectAll("path.domain").attr("stroke", "#111").attr("stroke-width", 1);
    sel.selectAll(".tick line").attr("stroke", "#111").attr("stroke-width", 1);
    sel.selectAll("text").attr("font-size", 16.5).attr("fill", "#111");
  };

  g.append("g")
    .attr("transform", `translate(0,${PLOT_H})`)
    .call(d3.axisBottom(xScale).tickValues(xTicks)
      .tickFormat((d, k) => xTickLabels[k])
      .tickSizeInner(-4).tickSizeOuter(0).tickPadding(10))
    .call(styleAxis)
    .call((a) => a.select("path.domain").attr("stroke-width", 1.6));

  g.append("g")
    .call(d3.axisTop(xScale).tickValues(xTicks).tickFormat("")
      .tickSizeInner(-4).tickSizeOuter(0))
    .call(styleAxis);

  g.append("g")
    .call(d3.axisLeft(yScale).tickValues(yTicks)
      .tickSizeInner(-4).tickSizeOuter(0).tickPadding(6))
    .call(styleAxis);

  g.append("g")
    .attr("transform", `translate(${PLOT_W},0)`)
    .call(d3.axisRight(yScale).tickValues(yTicks).tickFormat("")
      .tickSizeInner(-4).tickSizeOuter(0))
    .call(styleAxis);

  g.append("text")
    .attr("x", xScale(0.2525))
    .attr("y", PLOT_H + XLABEL_OFFSET[row])
    .attr("text-anchor", "middle")
    .attr("font-size", 21.4)
    .text(xLabel);

  g.append("text")
    .attr("transform", `translate(-36,${PLOT_H / 2 - 1.5}) rotate(-90)`)
    .attr("text-anchor", "middle")
    .attr("font-size", 21.2)
    .text(yLabel);

  g.append("text")
    .attr("x", xScale(0.4))
    .attr("y", 24.5)
    .attr("font-size", 18.6)
    .text(`\u03b3=${gammaLabels[i]}`);
});
</script>
</body>
</html>
